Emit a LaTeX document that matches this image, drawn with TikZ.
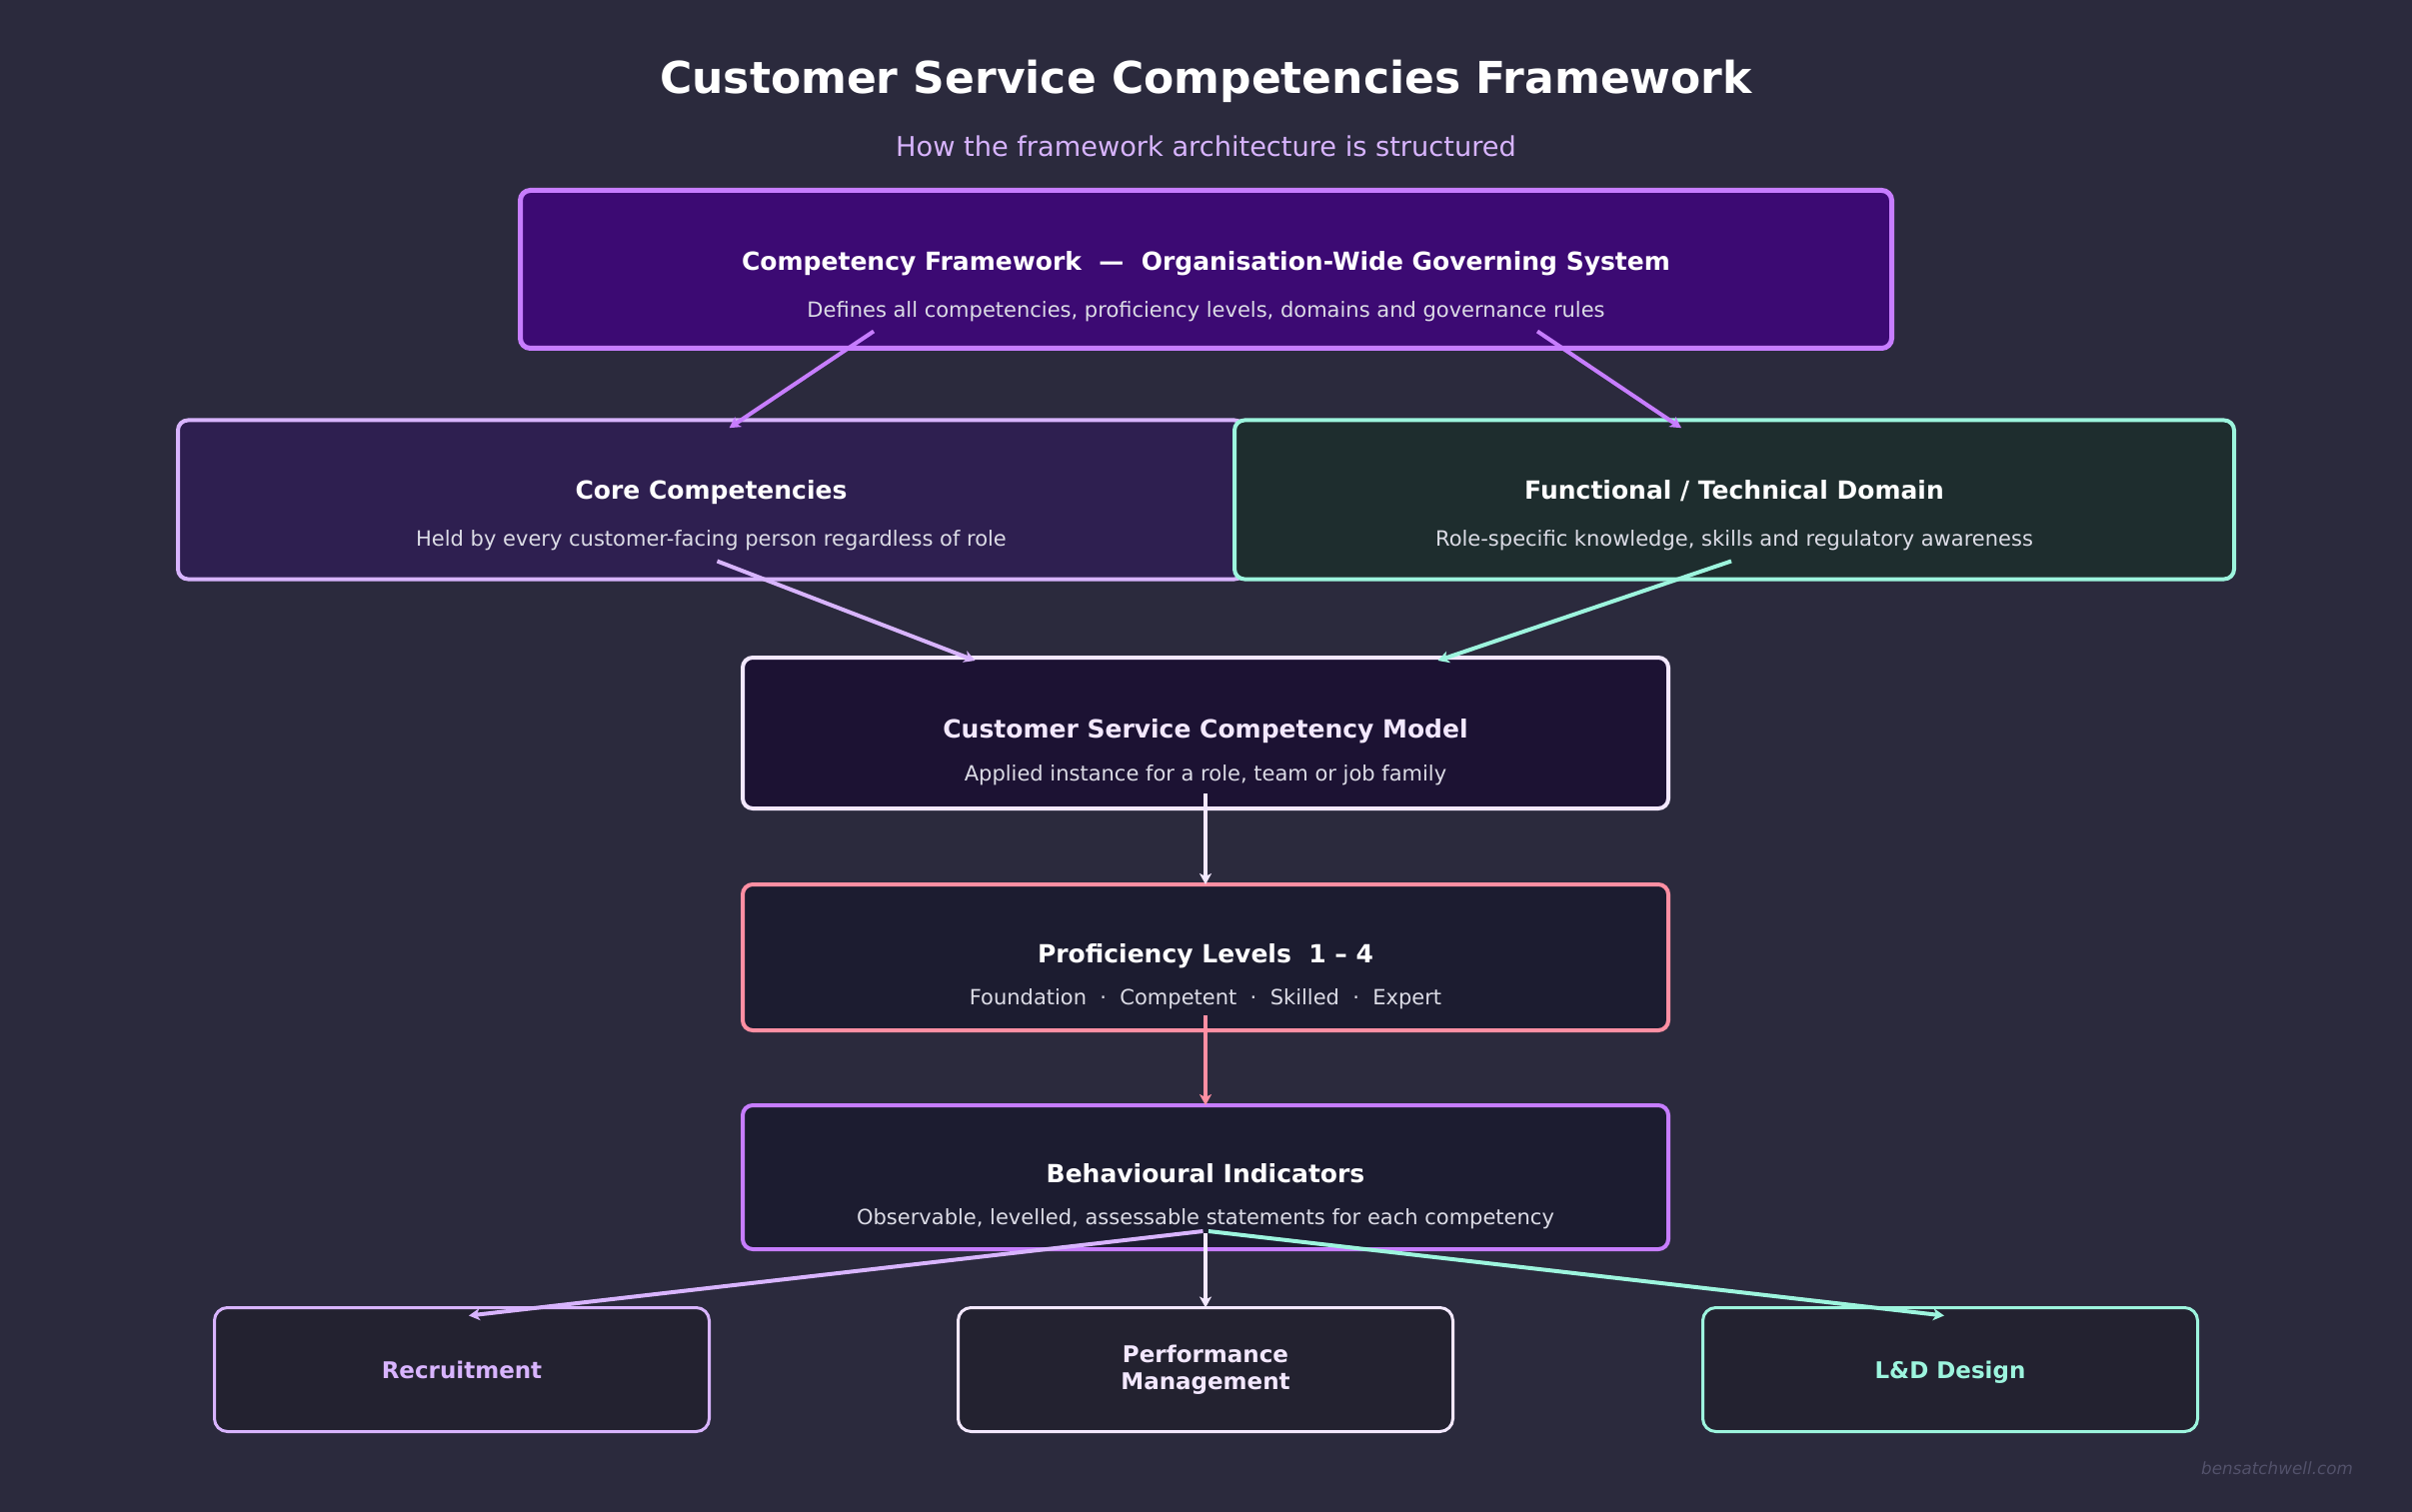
\documentclass[tikz,border=0pt]{standalone}
\usepackage{fontspec}
\setmainfont{DejaVu Sans}
\usetikzlibrary{arrows.meta}

\definecolor{bg}{HTML}{2B2A3D}
\definecolor{purp}{HTML}{C77DFF}
\definecolor{lav}{HTML}{D8B4FE}
\definecolor{mint}{HTML}{9DF5DE}
\definecolor{pale}{HTML}{F3E8FF}
\definecolor{pink}{HTML}{FF8FA3}
\definecolor{subgray}{HTML}{DCDCE6}
\definecolor{fwfill}{HTML}{3C0A73}
\definecolor{corefill}{HTML}{2E1F50}
\definecolor{funcfill}{HTML}{1E2D2E}
\definecolor{modelfill}{HTML}{1C1233}
\definecolor{lowfill}{HTML}{1C1C30}
\definecolor{leaffill}{HTML}{232230}
\definecolor{mark}{HTML}{52516A}

\tikzset{
	box/.style={draw, rounded corners=5pt, line width=2pt, inner sep=0pt, outer sep=0pt},
	leaf/.style={draw, rounded corners=6.5pt, line width=1.5pt, fill=leaffill, minimum width=247.5pt, minimum height=62pt, align=center, inner sep=0pt, outer sep=0pt, font=\bfseries\fontsize{11.5}{13.5}\selectfont},
	ttl/.style={anchor=base, inner sep=0pt, text=white, font=\bfseries\fontsize{12.5}{15}\selectfont},
	sub/.style={anchor=base, inner sep=0pt, text=subgray, font=\fontsize{10.5}{13}\selectfont},
	arr/.style={line width=2pt, -{Stealth[length=5.5pt,width=6pt,inset=1.5pt]}},
}

\begin{document}
\begin{tikzpicture}[x=0.5pt,y=-0.5pt]
			\fill[bg] (0,0) rectangle (2413,1513);
			\useasboundingbox (0,0) rectangle (2413,1513);
			% heading
			\node[anchor=base, text=white, font=\bfseries\fontsize{22}{26}\selectfont] (title) at (1206.5,93.5) {Customer Service Competencies Framework};
			\node[anchor=base, text=lav, font=\fontsize{13.6}{16}\selectfont] (subtitle) at (1206.5,156.5) {How the framework architecture is structured};
			% boxes
			\node[box, draw=purp, fill=fwfill, line width=2.5pt, minimum width=686pt, minimum height=79pt] (fw) at (1206.5,269.5) {};
			\node[box, draw=lav, fill=corefill, minimum width=533.5pt, minimum height=79.5pt] (core) at (711.5,500) {};
			\node[box, draw=mint, fill=funcfill, minimum width=500pt, minimum height=79.5pt] (func) at (1735,500) {};
			\node[box, draw=pale, fill=modelfill, minimum width=463pt, minimum height=75.5pt] (model) at (1206,733.5) {};
			\node[box, draw=pink, fill=lowfill, minimum width=463pt, minimum height=73pt] (prof) at (1206,958) {};
			\node[box, draw=purp, fill=lowfill, minimum width=463pt, minimum height=72pt] (ind) at (1206,1178) {};
			% box texts
			\node[ttl] (fw-t) at ([shift={(0,1.5)}]fw.center) {Competency Framework\ \ —\ \ Organisation-Wide Governing System};
			\node[sub] (fw-s) at ([shift={(0,48.5)}]fw.center) {Defines all competencies, proficiency levels, domains and governance rules};
			\node[ttl] (core-t) at ([shift={(0,-0.5)}]core.center) {Core Competencies};
			\node[sub] (core-s) at ([shift={(0,46.5)}]core.center) {Held by every customer-facing person regardless of role};
			\node[ttl] (func-t) at ([shift={(0,-0.5)}]func.center) {Functional / Technical Domain};
			\node[sub] (func-s) at ([shift={(0,46.5)}]func.center) {Role-specific knowledge, skills and regulatory awareness};
			\node[ttl, text=pale] (model-t) at ([shift={(0,5)}]model.center) {Customer Service Competency Model};
			\node[sub] (model-s) at ([shift={(0,47.5)}]model.center) {Applied instance for a role, team or job family};
			\node[ttl] (prof-t) at ([shift={(0,5)}]prof.center) {Proficiency Levels\ \ 1 – 4};
			\node[sub] (prof-s) at ([shift={(0,47.5)}]prof.center) {Foundation\ \ ·\ \ Competent\ \ ·\ \ Skilled\ \ ·\ \ Expert};
			\node[ttl] (ind-t) at ([shift={(0,5)}]ind.center) {Behavioural Indicators};
			\node[sub] (ind-s) at ([shift={(0,47.5)}]ind.center) {Observable, levelled, assessable statements for each competency};
			% uses
			\node[leaf, draw=lav, text=lav] (recr) at (462,1370.5) {Recruitment};
			\node[leaf, draw=pale, text=pale] (perf) at (1206,1370.5) {Performance\\Management};
			\node[leaf, draw=mint, text=mint, text depth=0pt] (ld) at (1951,1370.5) {L\&D Design};
			% arrows
			\draw[arr, purp] ([shift={(-332.5,-17)}]fw.south) -- ([shift={(18,7.7)}]core.north);
			\draw[arr, purp] ([shift={(331.5,-17)}]fw.south) -- ([shift={(-53,7.7)}]func.north);
			\draw[arr, lav] ([shift={(6,-18)}]core.south) -- ([shift={(-230.5,3)}]model.north);
			\draw[arr, mint] ([shift={(-3,-18)}]func.south) -- ([shift={(232.5,3)}]model.north);
			\draw[arr, pale] ([shift={(0,-15)}]model.south) -- (prof.north);
			\draw[arr, pink] ([shift={(0,-15)}]prof.south) -- (ind.north);
			\draw[arr, lav] ([shift={(-2.5,-18)}]ind.south) -- ([shift={(7,8)}]recr.north);
			\draw[arr, pale] ([shift={(0,-16)}]ind.south) -- (perf.north);
			\draw[arr, mint] ([shift={(3,-18)}]ind.south) -- ([shift={(-6,8)}]ld.north);
			\node[anchor=base east, text=mark, font=\itshape\fontsize{8.4}{10}\selectfont] (site) at (2361,1475) {bensatchwell.com};
		\end{tikzpicture}
\end{document}
